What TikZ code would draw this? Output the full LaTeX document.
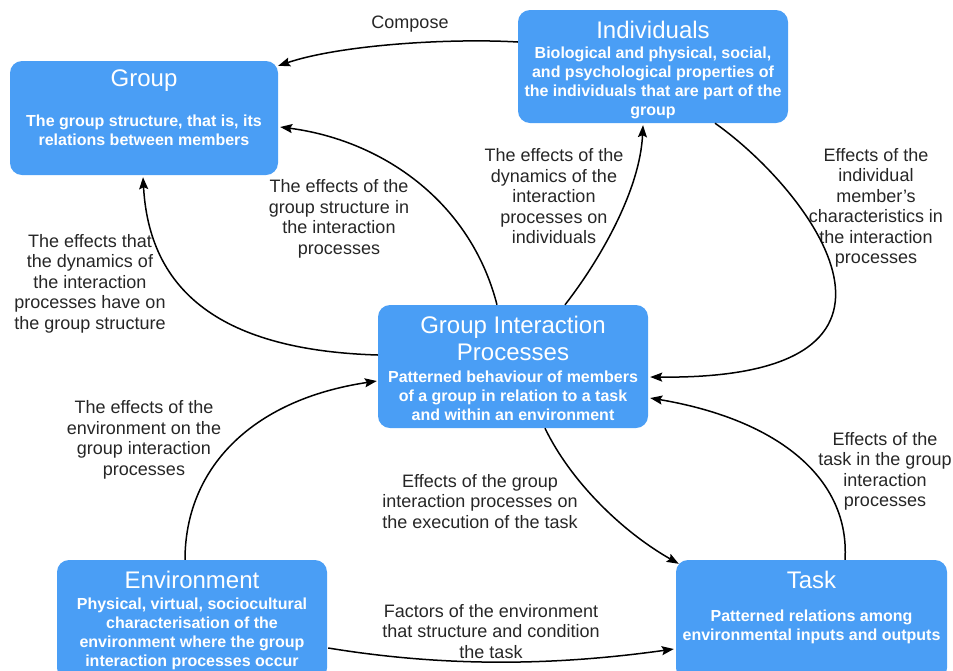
\documentclass[tikz,border=0pt]{standalone}
\usepackage{fontspec}
\setmainfont{Liberation Sans}
\usetikzlibrary{arrows.meta,calc}
\definecolor{boxblue}{RGB}{74,158,245}
\definecolor{labelgray}{RGB}{38,38,38}

\begin{document}
\begin{tikzpicture}[x=1pt,y=-1pt,
  panel/.style={draw=none, fill=boxblue, rounded corners=12pt, inner sep=0pt,
                minimum width=270pt},
  title/.style={text=white, align=center, inner sep=0pt,
                font=\fontsize{24}{27}\selectfont},
  desc/.style={text=white, align=center, inner sep=0pt,
               font=\fontsize{16}{19}\bfseries\selectfont},
  note/.style={text=labelgray, align=center, inner sep=0pt,
               font=\fontsize{18}{20.5}\selectfont},
  link/.style={draw=black, line width=1.5pt,
               -{Stealth[length=12pt,width=9pt,inset=2pt]}},
]
\useasboundingbox (0,0) rectangle (953,670);

% ---- panels ----
\node[panel, minimum width=268pt, minimum height=114pt] (grp) at (144,118) {};
\node[panel, minimum height=113pt] (ind) at (653,66.5) {};
\node[panel, minimum height=123pt] (gip) at (513,366.5) {};
\node[panel, minimum height=120pt] (env) at (192,620) {};
\node[panel, minimum width=271pt, minimum height=120pt] (tsk) at (811.5,620) {};

% ---- panel texts ----
\node[title] (grpT) at (144,81) {Group};
\node[desc]  (grpD) at (144,130.5) {The group structure, that is, its\\relations between members};

\node[title] (indT) at (653,30) {Individuals};
\node[desc]  (indD) at (653,82.5) {Biological and physical, social,\\and psychological properties of\\the individuals that are part of the\\group};

\node[title] (gipT) at (513,338.5) {Group Interaction\\Processes};
\node[desc]  (gipD) at (513,396) {Patterned behaviour of members\\of a group in relation to a task\\and within an environment};

\node[title] (envT) at (192,580) {Environment};
\node[desc]  (envD) at (192,633.5) {Physical, virtual, sociocultural\\characterisation of the\\environment where the group\\interaction processes occur};

\node[title] (tskT) at (811.5,580) {Task};
\node[desc]  (tskD) at (811.5,626.5) {Patterned relations among\\environmental inputs and outputs};

% ---- connector labels ----
\node[note] (lCompose) at (410,24) {Compose};
\node[note] (lStruct) at (339,219) {The effects of the\\group structure in\\the interaction\\processes};
\node[note] (lDynGrp) at (90,283.5) {The effects that\\the dynamics of\\the interaction\\processes have on\\the group structure};
\node[note] (lDynInd) at (554,196.5) {The effects of the\\dynamics of the\\interaction\\processes on\\individuals};
\node[note] (lMember) at (876,208) {Effects of the\\individual\\member's\\characteristics in\\the interaction\\processes};
\node[note] (lEnv) at (144,440) {The effects of the\\environment on the\\group interaction\\processes};
\node[note] (lExec) at (480,501.5) {Effects of the group\\interaction processes on\\the execution of the task};
\node[note] (lTask) at (885,471.5) {Effects of the\\task in the group\\interaction\\processes};
\node[note] (lFactors) at (491,631.5) {Factors of the environment\\that structure and condition\\the task};

% ---- connectors ----
\draw[link] ($(ind.west)+(0,-24.5)$) .. controls +(-68,-4) and +(62,-21) .. ($(grp.north east)+(0,5)$);
\draw[link] ($(gip.north)+(-16,0)$) .. controls +(-27,-105) and +(100,13) .. ($(grp.east)+(2,9)$);
\draw[link] ($(gip.west)+(0,-11.5)$) .. controls +(-165,-5) and +(6,108) .. ($(grp.south)+(-1,2)$);
\draw[link] ($(gip.north)+(52,0)$) .. controls +(35,-45) and +(-3,65) .. ($(ind.south)+(-10,2)$);
\draw[link] ($(ind.south)+(62,0)$) .. controls +(95,67) and +(305,3) .. ($(gip.east)+(2,10.5)$);
\draw[link] ($(env.north)+(-7,0)$) .. controls +(0,-90) and +(-127,19) .. ($(gip.west)+(-1,14.5)$);
\draw[link] ($(gip.south)+(32,0)$) .. controls +(25,52) and +(-58,-33) .. ($(tsk.north west)+(3,4)$);
\draw[link] ($(tsk.north)+(33.5,0)$) .. controls +(5,-80) and +(130,22) .. ($(gip.east)+(2,31.5)$);
\draw[link] ($(env.east)+(1,28)$) .. controls +(122,20) and +(-114,16) .. ($(tsk.west)+(-2,29)$);
\end{tikzpicture}
\end{document}
